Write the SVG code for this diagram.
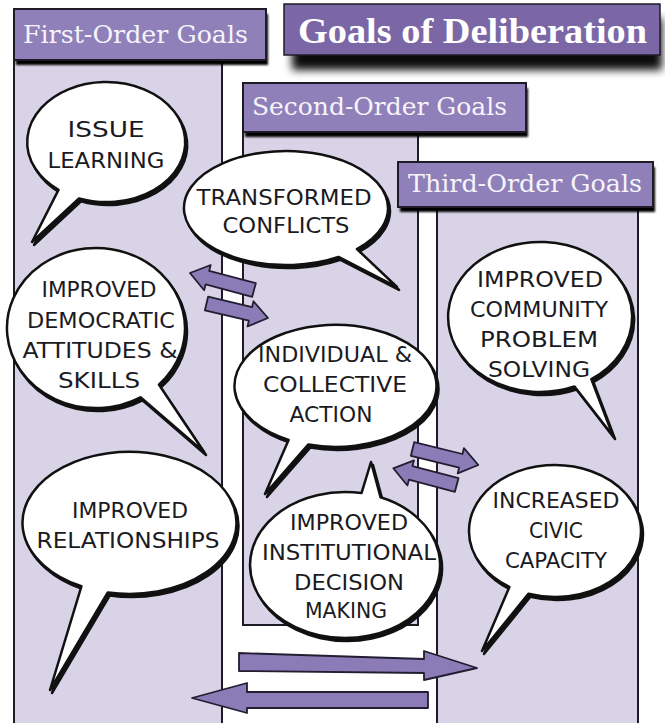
<svg xmlns="http://www.w3.org/2000/svg" width="665" height="723" viewBox="0 0 665 723">
<defs>
<filter id="hs" x="-10%" y="-30%" width="120%" height="180%"><feGaussianBlur stdDeviation="1"/></filter>
<filter id="ts" x="-20%" y="-60%" width="140%" height="260%"><feGaussianBlur stdDeviation="4.5"/></filter>
<path id="p1" d="M 58.5 189.9 A 79 60 0 1 1 79.0 198.4 L 32 242 Z"/>
<path id="p2" d="M 338.5 256.9 A 102 57 0 1 1 356.9 249.0 L 397 287 Z"/>
<path id="p3" d="M 140.5 397.3 A 89 80 0 1 1 158.9 384.6 L 204 452 Z"/>
<path id="p4" d="M 574.5 386.5 A 92 75 0 1 1 591.4 379.2 L 613 436 Z"/>
<path id="p5" d="M 288.6 439.9 A 101 61 0 1 1 308.2 444.6 L 265 494 Z"/>
<path id="p6" d="M 380.6 497.3 A 95 73 0 1 1 361.5 493.1 L 371 462 Z"/>
<path id="p7" d="M 81.4 586.3 A 107 71 0 1 1 107.8 592.4 L 50 690 Z"/>
<path id="p8" d="M 509.4 587.0 A 86 66 0 1 1 528.4 593.8 L 482 651 Z"/>
</defs>
<style>
.body{fill:#d8d3e6;stroke:#1e1b26;stroke-width:2}
.hdr{fill:#8f80b9;stroke:#1e1b26;stroke-width:2}
.hsh{fill:#000;filter:url(#hs)}
.htx{font-family:"DejaVu Serif",serif;font-size:25px;fill:#f6f4fa}
.bub{fill:#fff;stroke:#111;stroke-width:2.5;stroke-linejoin:round}
.bsh{fill:#111;stroke:#111;stroke-width:2.5;stroke-linejoin:round}
.bt{font-family:"DejaVu Sans",sans-serif;font-size:21px;fill:#1b1a22;text-anchor:middle}
.arr{fill:#8b7cb8;stroke:#221d30;stroke-width:1.8;stroke-linejoin:round}
</style>
<rect width="665" height="723" fill="#fff"/>

<g id="col-first">
<rect class="body" x="14" y="58" width="208" height="680"/>
<rect class="hsh" x="16" y="14" width="252" height="51"/>
<rect class="hdr" x="14" y="9" width="252" height="51"/>
<text class="htx" x="23" y="43" textLength="225" lengthAdjust="spacingAndGlyphs">First-Order Goals</text>
</g>

<g id="col-second">
<rect class="body" x="243" y="130" width="175" height="495"/>
<rect class="hsh" x="245" y="88" width="283" height="49"/>
<rect class="hdr" x="243" y="83" width="283" height="49"/>
<text class="htx" x="252" y="115" textLength="255" lengthAdjust="spacingAndGlyphs">Second-Order Goals</text>
</g>

<g id="col-third">
<rect class="body" x="437" y="205" width="201" height="530"/>
<rect class="hsh" x="400" y="167" width="255" height="45"/>
<rect class="hdr" x="398" y="162" width="255" height="45"/>
<text class="htx" x="408" y="192" textLength="234" lengthAdjust="spacingAndGlyphs">Third-Order Goals</text>
</g>

<g id="title">
<rect x="292" y="18" width="370" height="52" fill="#000" opacity="0.95" filter="url(#ts)"/>
<rect x="284" y="4" width="376" height="51" fill="#7b67a6" stroke="#1e1b26" stroke-width="1.5"/>
<text x="298" y="43" font-family="Liberation Serif, serif" font-weight="bold" font-size="35" fill="#fff" textLength="349" lengthAdjust="spacingAndGlyphs">Goals of Deliberation</text>
</g>

<g id="connectors">
<polygon class="arr" points="255.8,283.2 209.2,270.8 210.7,265.0 190,273 204.1,290.2 205.6,284.4 252.2,296.8"/>
<polygon class="arr" points="204.9,310.3 248.9,320.7 247.5,326.5 268,318 253.5,301.3 252.1,307.1 208.1,296.7"/>
<polygon class="arr" points="410.9,455.8 459.1,467.6 457.7,473.4 478.3,465 463.9,448.2 462.5,454.0 414.2,442.2"/>
<polygon class="arr" points="458.5,478.2 412.5,466.1 414.0,460.3 393.3,468.3 407.4,485.5 408.9,479.7 454.9,491.8"/>
<polygon class="arr" points="239,653 424,659 424,651 477,668 424,680 424,673 239,671"/>
<polygon class="arr" points="428,692 428,708 247,708 247,713 192,698 247,683 247,692"/>
</g>

<g id="issue-learning">
<use href="#p1" class="bsh" transform="translate(2,3)"/>
<use href="#p1" class="bub"/>
<text class="bt" x="106" y="137" textLength="77" lengthAdjust="spacingAndGlyphs">ISSUE</text>
<text class="bt" x="106" y="168" textLength="117" lengthAdjust="spacingAndGlyphs">LEARNING</text>
</g>

<g id="transformed-conflicts">
<use href="#p2" class="bsh" transform="translate(2,3)"/>
<use href="#p2" class="bub"/>
<text class="bt" x="284" y="205" textLength="175" lengthAdjust="spacingAndGlyphs">TRANSFORMED</text>
<text class="bt" x="286" y="233" textLength="127" lengthAdjust="spacingAndGlyphs">CONFLICTS</text>
</g>

<g id="democratic-attitudes">
<use href="#p3" class="bsh" transform="translate(2,3)"/>
<use href="#p3" class="bub"/>
<text class="bt" x="99" y="297" textLength="115" lengthAdjust="spacingAndGlyphs">IMPROVED</text>
<text class="bt" x="101" y="328" textLength="148" lengthAdjust="spacingAndGlyphs">DEMOCRATIC</text>
<text class="bt" x="100" y="358" textLength="155" lengthAdjust="spacingAndGlyphs">ATTITUDES &amp;</text>
<text class="bt" x="99" y="388" textLength="82" lengthAdjust="spacingAndGlyphs">SKILLS</text>
</g>

<g id="community-problem-solving">
<use href="#p4" class="bsh" transform="translate(2,3)"/>
<use href="#p4" class="bub"/>
<text class="bt" x="540" y="287" textLength="126" lengthAdjust="spacingAndGlyphs">IMPROVED</text>
<text class="bt" x="539" y="317" textLength="138" lengthAdjust="spacingAndGlyphs">COMMUNITY</text>
<text class="bt" x="539" y="347" textLength="118" lengthAdjust="spacingAndGlyphs">PROBLEM</text>
<text class="bt" x="539" y="377" textLength="102" lengthAdjust="spacingAndGlyphs">SOLVING</text>
</g>

<g id="collective-action">
<use href="#p5" class="bsh" transform="translate(2,3)"/>
<use href="#p5" class="bub"/>
<text class="bt" x="335" y="362" textLength="154" lengthAdjust="spacingAndGlyphs">INDIVIDUAL &amp;</text>
<text class="bt" x="335" y="392" textLength="144" lengthAdjust="spacingAndGlyphs">COLLECTIVE</text>
<text class="bt" x="331" y="422" textLength="83" lengthAdjust="spacingAndGlyphs">ACTION</text>
</g>

<g id="institutional-decision">
<use href="#p6" class="bsh" transform="translate(2,3)"/>
<use href="#p6" class="bub"/>
<text class="bt" x="349" y="530" textLength="118" lengthAdjust="spacingAndGlyphs">IMPROVED</text>
<text class="bt" x="349" y="560" textLength="174" lengthAdjust="spacingAndGlyphs">INSTITUTIONAL</text>
<text class="bt" x="349" y="590" textLength="110" lengthAdjust="spacingAndGlyphs">DECISION</text>
<text class="bt" x="346" y="618" textLength="82" lengthAdjust="spacingAndGlyphs">MAKING</text>
</g>

<g id="improved-relationships">
<use href="#p7" class="bsh" transform="translate(2,3)"/>
<use href="#p7" class="bub"/>
<text class="bt" x="130" y="518" textLength="116" lengthAdjust="spacingAndGlyphs">IMPROVED</text>
<text class="bt" x="128" y="548" textLength="183" lengthAdjust="spacingAndGlyphs">RELATIONSHIPS</text>
</g>

<g id="civic-capacity">
<use href="#p8" class="bsh" transform="translate(2,3)"/>
<use href="#p8" class="bub"/>
<text class="bt" x="556" y="508" textLength="127" lengthAdjust="spacingAndGlyphs">INCREASED</text>
<text class="bt" x="556" y="538" textLength="54" lengthAdjust="spacingAndGlyphs">CIVIC</text>
<text class="bt" x="556" y="568" textLength="102" lengthAdjust="spacingAndGlyphs">CAPACITY</text>
</g>
</svg>
